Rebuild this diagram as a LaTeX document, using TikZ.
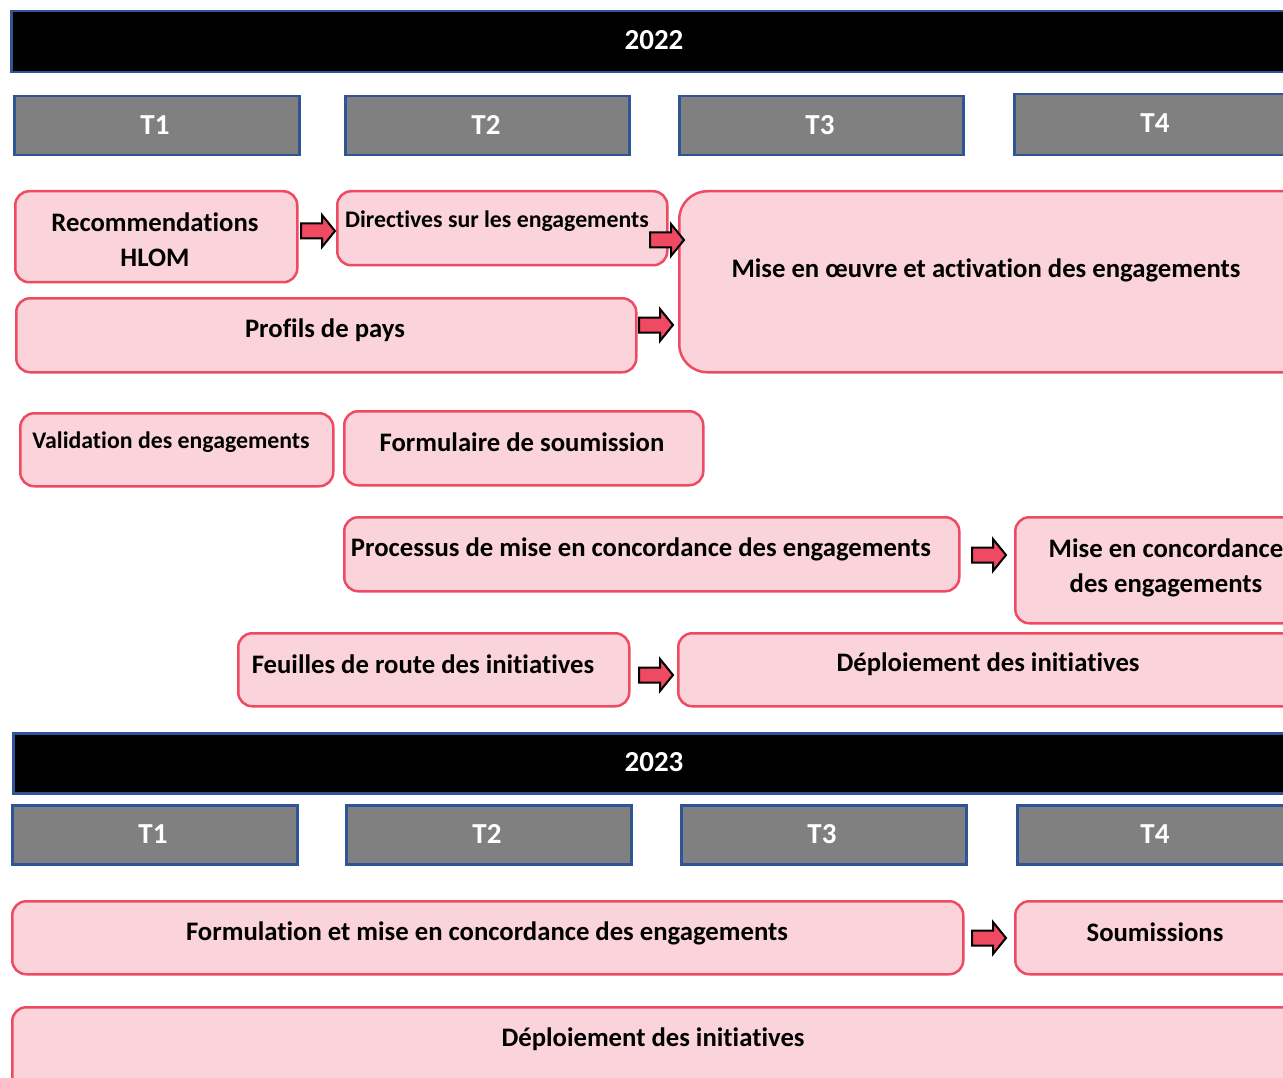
\documentclass[tikz,border=0pt]{standalone}
\usepackage{fontspec}
\setmainfont[Ligatures=NoCommon]{Carlito}
\definecolor{barblue}{HTML}{2F5597}
\definecolor{qgrey}{HTML}{808080}
\definecolor{pinkfill}{HTML}{FAD4DA}
\definecolor{pinkline}{HTML}{EE4B63}
\definecolor{arrowred}{HTML}{F04A63}
\tikzset{
  yearbar/.style={draw=barblue, line width=2.5pt, fill=black, anchor=north west, inner sep=0pt},
  qbox/.style={draw=barblue, line width=2.5pt, fill=qgrey, anchor=north west, inner sep=0pt},
  pbox/.style={draw=pinkline, line width=2.5pt, fill=pinkfill, rounded corners=14pt, anchor=north west, inner sep=0pt},
  whitelbl/.style={font=\bfseries\fontsize{29}{34}\selectfont, text=white, inner sep=0pt},
  lbl/.style={font=\bfseries\fontsize{26.7}{35}\selectfont, text=black, inner sep=0pt, align=center},
  smalllbl/.style={font=\bfseries\fontsize{23.8}{28}\selectfont, text=black, inner sep=0pt, align=center},
  barrow/.style={draw=black, line width=2pt, fill=arrowred, line join=miter}
}
\newcommand\blockarrow[3]{%
  \coordinate (#1) at (#2,#3);
  \draw[barrow] ([shift={(-17,-7.5)}]#1) -- ([shift={(4,-7.5)}]#1) -- ([shift={(4,-16)}]#1)
    -- ([shift={(17,0)}]#1) -- ([shift={(4,16)}]#1) -- ([shift={(4,7.5)}]#1)
    -- ([shift={(-17,7.5)}]#1) -- cycle;}
\begin{document}
\begin{tikzpicture}[x=1pt,y=-1pt]
\useasboundingbox (0,0) rectangle (1283,1078);
\clip (0,0) rectangle (1283,1078);
% ---------- 2022 ----------
\node[yearbar, minimum width=1288pt, minimum height=61pt] (y22) at (10,10) {};
\node[whitelbl] (y22t) at (654,40) {2022};
\node[qbox, minimum width=285pt, minimum height=59pt] (a1) at (13,95) {};
\node[whitelbl] (a1t) at (155,125) {T1};
\node[qbox, minimum width=284pt, minimum height=59pt] (a2) at (344,95) {};
\node[whitelbl] (a2t) at (486,125) {T2};
\node[qbox, minimum width=284pt, minimum height=59pt] (a3) at (678,95) {};
\node[whitelbl] (a3t) at (820,125) {T3};
\node[qbox, minimum width=290pt, minimum height=61pt] (a4) at (1013,93) {};
\node[whitelbl] (a4t) at (1155,123) {T4};
% boxes
\node[pbox, minimum width=282pt, minimum height=91pt] (rec) at (14,190) {};
\node[lbl] (rect) at (155,240) {Recommendations\\HLOM};
\node[pbox, minimum width=330pt, minimum height=74pt] (dir) at (336,190) {};
\node[smalllbl] (dirt) at (497,221) {Directives sur les engagements};
\node[pbox, rounded corners=28pt, minimum width=640pt, minimum height=181pt] (mise) at (678,190) {};
\node[lbl] (miset) at (986,270) {Mise en œuvre et activation des engagements};
\node[pbox, minimum width=620pt, minimum height=74pt] (prof) at (15,297) {};
\node[lbl] (proft) at (325,330) {Profils de pays};
\node[pbox, minimum width=313pt, minimum height=73pt] (val) at (19,412) {};
\node[smalllbl] (valt) at (171,442) {Validation des engagements};
\node[pbox, minimum width=359pt, minimum height=74pt] (form) at (343,410) {};
\node[lbl] (formt) at (522,442) {Formulaire de soumission};
\node[pbox, minimum width=615pt, minimum height=74pt] (proc) at (343,516) {};
\node[lbl] (proct) at (641,549) {Processus de mise en concordance des engagements};
\node[pbox, minimum width=310pt, minimum height=106pt] (conc) at (1014,516) {};
\node[lbl] (conct) at (1166,568) {Mise en concordance\\des engagements};
\node[pbox, minimum width=391pt, minimum height=73pt] (feu) at (237,632) {};
\node[lbl] (feut) at (423,664) {Feuilles de route des initiatives};
\node[pbox, minimum width=630pt, minimum height=73pt] (dep) at (677,632) {};
\node[lbl] (dept) at (988,664) {Déploiement des initiatives};
% arrows
\blockarrow{ar1}{318}{231}
\blockarrow{ar2}{667}{240}
\blockarrow{ar3}{656}{325}
\blockarrow{ar4}{989}{555}
\blockarrow{ar5}{656}{675}
% ---------- 2023 ----------
\node[yearbar, minimum width=1288pt, minimum height=60pt] (y23) at (12,732) {};
\node[whitelbl] (y23t) at (654,762) {2023};
\node[qbox, minimum width=285pt, minimum height=59pt] (b1) at (11,804) {};
\node[whitelbl] (b1t) at (153,834) {T1};
\node[qbox, minimum width=285pt, minimum height=59pt] (b2) at (345,804) {};
\node[whitelbl] (b2t) at (487,834) {T2};
\node[qbox, minimum width=285pt, minimum height=59pt] (b3) at (680,804) {};
\node[whitelbl] (b3t) at (822,834) {T3};
\node[qbox, minimum width=290pt, minimum height=59pt] (b4) at (1016,804) {};
\node[whitelbl] (b4t) at (1155,834) {T4};
\node[pbox, minimum width=951pt, minimum height=73pt] (fmu) at (11,900) {};
\node[lbl] (fmut) at (487,933) {Formulation et mise en concordance des engagements};
\node[pbox, minimum width=300pt, minimum height=73pt] (sou) at (1014,900) {};
\node[lbl] (sout) at (1155,932) {Soumissions};
\node[pbox, minimum width=1290pt, minimum height=100pt] (dep2) at (11,1006) {};
\node[lbl] (dep2t) at (653,1039) {Déploiement des initiatives};
\blockarrow{ar6}{989}{938}
\end{tikzpicture}
\end{document}
